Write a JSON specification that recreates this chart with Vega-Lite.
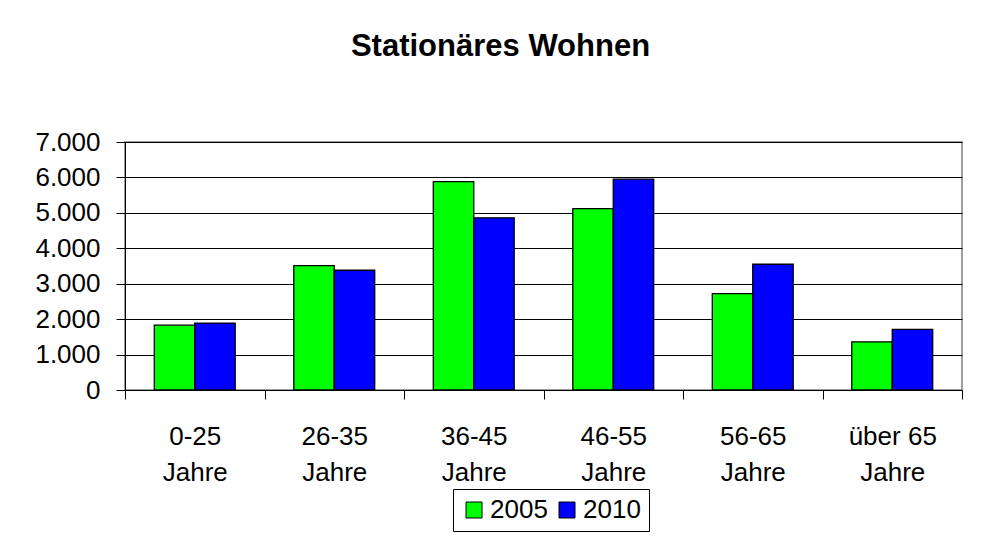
{
  "$schema": "https://vega.github.io/schema/vega-lite/v6.json",
  "width": 837,
  "height": 248,
  "padding": {"left": 34, "top": 31, "right": 20, "bottom": 4},
  "background": "#ffffff",
  "title": {
    "text": "Stationäres Wohnen",
    "font": "Liberation Sans",
    "fontSize": 31,
    "fontWeight": "bold",
    "color": "#000000",
    "anchor": "middle",
    "baseline": "alphabetic",
    "offset": 42,
    "dx": -43
  },
  "data": {
    "values": [
      {"age": "0-25 Jahre", "year": "2005", "value": 1830},
      {"age": "0-25 Jahre", "year": "2010", "value": 1890},
      {"age": "26-35 Jahre", "year": "2005", "value": 3510},
      {"age": "26-35 Jahre", "year": "2010", "value": 3380},
      {"age": "36-45 Jahre", "year": "2005", "value": 5880},
      {"age": "36-45 Jahre", "year": "2010", "value": 4860},
      {"age": "46-55 Jahre", "year": "2005", "value": 5120},
      {"age": "46-55 Jahre", "year": "2010", "value": 5950},
      {"age": "56-65 Jahre", "year": "2005", "value": 2720},
      {"age": "56-65 Jahre", "year": "2010", "value": 3550},
      {"age": "über 65 Jahre", "year": "2005", "value": 1360},
      {"age": "über 65 Jahre", "year": "2010", "value": 1710}
    ]
  },
  "mark": {"type": "bar", "stroke": "#000000", "strokeWidth": 1.3},
  "encoding": {
    "x": {
      "field": "age",
      "type": "nominal",
      "sort": null,
      "scale": {"paddingInner": 0, "paddingOuter": 0},
      "axis": {
        "title": null,
        "labelAngle": 0,
        "labelExpr": "datum.label ? [replace(datum.label, ' Jahre', ''), 'Jahre'] : ''",
        "labelFont": "Liberation Sans",
        "labelFontSize": 26,
        "labelColor": "#000000",
        "labelLineHeight": 36,
        "labelPadding": 24,
        "tickSize": 9,
        "tickColor": "#000000",
        "domainColor": "#000000",
        "tickBand": "extent",
        "grid": false
      }
    },
    "xOffset": {
      "field": "year",
      "type": "nominal",
      "sort": ["2005", "2010"],
      "scale": {"paddingInner": 0, "paddingOuter": 0.724}
    },
    "y": {
      "field": "value",
      "type": "quantitative",
      "scale": {"domain": [0, 7000], "nice": false},
      "axis": {
        "title": null,
        "values": [0, 1000, 2000, 3000, 4000, 5000, 6000, 7000],
        "labelExpr": "replace(format(datum.value, ','), ',', '.')",
        "labelFont": "Liberation Sans",
        "labelFontSize": 26,
        "labelColor": "#000000",
        "labelPadding": 16,
        "tickSize": 9,
        "tickColor": "#000000",
        "domainColor": "#000000",
        "grid": true,
        "gridColor": "#000000",
        "gridOpacity": 1
      }
    },
    "color": {
      "field": "year",
      "type": "nominal",
      "scale": {"domain": ["2005", "2010"], "range": ["#00ff00", "#0000ff"]},
      "legend": {
        "title": null,
        "orient": "none",
        "direction": "horizontal",
        "legendX": 328,
        "legendY": 347,
        "symbolType": "square",
        "symbolSize": 256,
        "symbolStrokeColor": "#000000",
        "symbolStrokeWidth": 1,
        "symbolOpacity": 1,
        "labelFont": "Liberation Sans",
        "labelFontSize": 26,
        "labelColor": "#000000",
        "labelOffset": 3,
        "columnPadding": 6,
        "padding": 8,
        "strokeColor": "#000000",
        "fillColor": "#ffffff"
      }
    }
  },
  "config": {
    "view": {"stroke": "#808080", "strokeWidth": 1.5}
  }
}
